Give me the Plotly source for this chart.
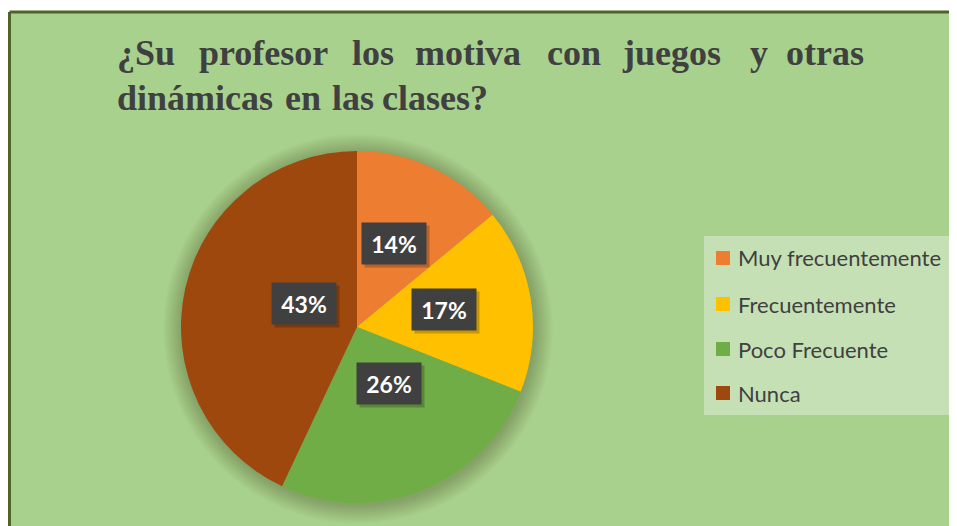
import math
import plotly.graph_objects as go

categories = ["Muy frecuentemente", "Frecuentemente", "Poco Frecuente", "Nunca"]
values = [14, 17, 26, 43]
colors = ["#ED7D31", "#FFC000", "#70AD47", "#9E480E"]
title_line1 = ["¿Su", "profesor", "los", "motiva", "con", "juegos", "y", "otras"]
title_line2 = ["dinámicas", "en", "las", "clases?"]

OFF = 8  # page body margin
W, H = 957 - OFF, 526 - OFF
cx, cy, R = 357, 327, 176  # pie centre / radius in page pixels

def px(x):
    return (x - OFF) / W

def py(y):
    return 1 - (y - OFF) / H

fig = go.Figure()
fig.add_trace(go.Pie(
    labels=categories, values=values, sort=False, direction="clockwise",
    rotation=0, marker=dict(colors=colors, line=dict(width=0)),
    textinfo="none", hoverinfo="label+percent", showlegend=False,
    domain=dict(x=[px(cx - R), px(cx + R)], y=[py(cy + R), py(cy - R)]),
))

shapes = []
# border lines (left and top) of the green panel
shapes.append(dict(type="rect", xref="paper", yref="paper",
                   x0=0, x1=1, y0=py(12), y1=1,
                   fillcolor="white", line=dict(width=0), layer="below"))
shapes.append(dict(type="line", xref="paper", yref="paper",
                   x0=px(9.5), x1=1, y0=py(12), y1=py(12),
                   line=dict(color="#4F6228", width=3), layer="below"))
shapes.append(dict(type="line", xref="paper", yref="paper",
                   x0=px(9.5), x1=px(9.5), y0=0, y1=py(12),
                   line=dict(color="#4F6228", width=3), layer="below"))
# soft shadow around pie
for i in range(12):
    r = R + 1 + i * 1.6
    shapes.append(dict(type="circle", xref="paper", yref="paper",
                       x0=px(cx - r + 1), x1=px(cx + r + 1),
                       y0=py(cy + r + 2), y1=py(cy - r + 2),
                       fillcolor="rgba(40,60,20,0.025)", line=dict(width=0),
                       layer="below"))
# legend box
shapes.append(dict(type="rect", xref="paper", yref="paper",
                   x0=px(704), x1=px(955), y0=py(415), y1=py(236),
                   fillcolor="#C5E0B4", line=dict(width=0), layer="below"))

annotations = []
# title words (justified line 1)
line1_x = [115, 197, 350, 413, 545, 620, 748, 784]
line2_x = [115, 283, 330, 380]
tfont = dict(family="Liberation Serif, Times New Roman, serif", size=36, color="#404040")
for w, x in zip(title_line1, line1_x):
    annotations.append(dict(text="<b>%s</b>" % w, x=px(x), y=py(53), xref="paper", yref="paper",
                            xanchor="left", yanchor="middle", showarrow=False, font=tfont))
for w, x in zip(title_line2, line2_x):
    annotations.append(dict(text="<b>%s</b>" % w, x=px(x), y=py(98), xref="paper", yref="paper",
                            xanchor="left", yanchor="middle", showarrow=False, font=tfont))

# data labels
total = sum(values)
cum = 0
for v in values:
    mid = (cum + v / 2) / total * 2 * math.pi
    cum += v
    lx = cx + 0.5 * R * math.sin(mid)
    ly = cy - 0.5 * R * math.cos(mid) - 4
    txt = "<b>%d%%</b>" % round(v / total * 100)
    annotations.append(dict(text="", x=px(lx), y=py(ly), xref="paper", yref="paper",
                            xshift=3, yshift=-3, showarrow=False, width=64, height=41,
                            bgcolor="rgba(0,0,0,0.22)", borderpad=0))
    annotations.append(dict(text=txt, x=px(lx), y=py(ly), xref="paper", yref="paper",
                            showarrow=False, width=64, height=41, bgcolor="#404040", borderpad=0,
                            font=dict(family="Lato, Open Sans, sans-serif", size=23, color="white")))

# legend
leg_y = [258, 304, 349, 393]
for name, col, yy in zip(categories, colors, leg_y):
    shapes.append(dict(type="rect", xref="paper", yref="paper",
                       x0=px(716), x1=px(730), y0=py(yy + 7), y1=py(yy - 7),
                       fillcolor=col, line=dict(width=0)))
    annotations.append(dict(text=name, x=px(736), y=py(yy), xref="paper", yref="paper",
                            xanchor="left", yanchor="middle", showarrow=False,
                            font=dict(family="Lato, Open Sans, sans-serif", size=22, color="#404040")))

fig.update_layout(width=W, height=H, margin=dict(l=0, r=0, t=0, b=0),
                  paper_bgcolor="#A9D18E", plot_bgcolor="#A9D18E",
                  shapes=shapes, annotations=annotations, showlegend=False)
fig.write_html("out.html", post_script="document.body.style.overflow='hidden';")
